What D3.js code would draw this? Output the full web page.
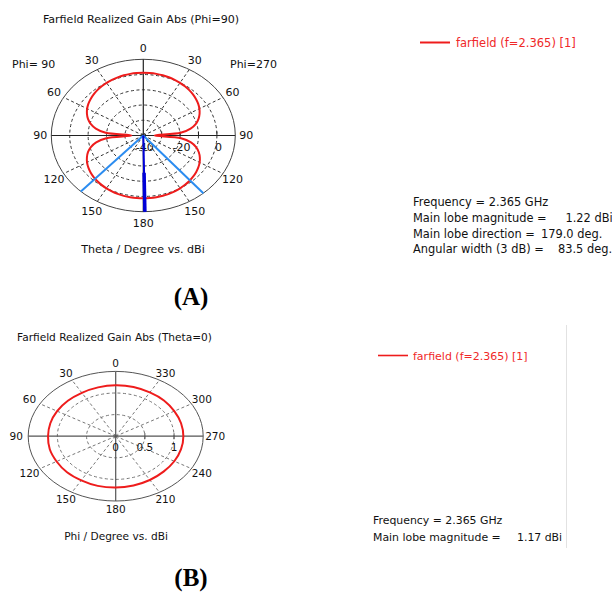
<!DOCTYPE html>
<html><head><meta charset="utf-8">
<script src="https://cdn.jsdelivr.net/npm/d3@7"></script>
<style>
html,body{margin:0;padding:0;background:#fff;}
svg{display:block;}
text{font-family:"DejaVu Sans",Verdana,sans-serif;}
</style></head>
<body>
<svg id="c" width="612" height="592"></svg>
<script>
// ---------- DATA ----------
// Panel A: Phi=90 cut, theta (deg) vs realized gain (dBi)
const thetaDeg = [0,5,10,15,20,25,30,35,40,45,50,55,60,65,70,75,80,85,90,95,100,105,110,115,120,125,130,135,140,145,150,155,160,165,170,175,180,185,190,195,200,205,210,215,220,225,230,235,240,245,250,255,260,265,270,275,280,285,290,295,300,305,310,315,320,325,330,335,340,345,350,355];
const gainA = [1.20,1.16,1.05,0.88,0.62,0.30,-0.10,-0.60,-1.15,-1.85,-2.65,-3.60,-4.75,-6.20,-8.00,-10.4,-13.8,-19.5,-33.5,-19.8,-14.0,-10.5,-8.0,-6.2,-4.7,-3.5,-2.5,-1.7,-1.0,-0.45,0.05,0.45,0.78,1.00,1.14,1.21,1.22,1.20,1.12,0.97,0.74,0.42,0.02,-0.48,-1.05,-1.75,-2.55,-3.50,-4.65,-6.10,-7.90,-10.3,-13.7,-19.4,-33.8,-19.6,-13.9,-10.4,-8.05,-6.25,-4.80,-3.62,-2.65,-1.85,-1.15,-0.60,-0.10,0.32,0.64,0.90,1.07,1.17];
const gridA = [-30,-20,-10,0];
const radialLabelsA = [-40,-20,0];
const angleTicksA = [0,30,60,90,120,150,180,210,240,270,300,330];
const mainLobeDirA = 179.0;
const beamEdgesA = [137.25,220.75];
const infoA = [["Frequency = 2.365 GHz",""],["Main lobe magnitude =","1.22 dBi"],["Main lobe direction =","179.0 deg."],["Angular width (3 dB) =","83.5 deg."]];

// Panel B: Theta=0 cut, phi (deg) vs realized gain (dBi)
const phiDeg = [0,15,30,45,60,75,90,105,120,135,150,165,180,195,210,225,240,255,270,285,300,315,330,345];
const gainB = [1.18,1.17,1.16,1.16,1.16,1.16,1.16,1.17,1.17,1.18,1.18,1.19,1.19,1.18,1.17,1.16,1.16,1.16,1.16,1.16,1.16,1.17,1.17,1.18];
const gridB = [0.5,1];
const radialLabelsB = [0,0.5,1];
const angleTicksB = [0,30,60,90,120,150,180,210,240,270,300,330];
const infoB = [["Frequency = 2.365 GHz",""],["Main lobe magnitude =","1.17 dBi"]];
const legendLabel = "farfield (f=2.365) [1]";

// ---------- DRAW ----------
const svg = d3.select("#c");
const rad = d => d*Math.PI/180;

function polar(g, o){
  const r = d3.scaleLinear().domain(o.domain).range([0,1]);
  const px = (a,v) => o.cx - o.rx*r(v)*Math.sin(rad(a));
  const py = (a,v) => o.cy - o.ry*r(v)*Math.cos(rad(a));
  const top = o.domain[1];
  g.append("ellipse").attr("cx",o.cx).attr("cy",o.cy)
    .attr("rx",o.rx*r(top)).attr("ry",o.ry*r(top))
    .attr("fill","none").attr("stroke",o.outer).attr("stroke-width",1);
  o.grid.forEach(v=>{
    g.append("ellipse").attr("cx",o.cx).attr("cy",o.cy)
      .attr("rx",o.rx*r(v)).attr("ry",o.ry*r(v))
      .attr("fill","none").attr("stroke",o.dash).attr("stroke-width",1)
      .attr("stroke-dasharray",o.dashArr);
  });
  o.angles.forEach(a=>{
    if(a%90===0) return;
    g.append("line").attr("x1",o.cx).attr("y1",o.cy)
      .attr("x2",px(a,top)).attr("y2",py(a,top))
      .attr("stroke",o.dash).attr("stroke-width",1).attr("stroke-dasharray",o.dashArr);
  });
  g.append("line").attr("x1",px(90,top)).attr("y1",o.cy).attr("x2",px(270,top)).attr("y2",o.cy)
    .attr("stroke",o.axis).attr("stroke-width",1.2);
  g.append("line").attr("x1",o.cx).attr("y1",py(0,top)).attr("x2",o.cx).attr("y2",py(180,top))
    .attr("stroke",o.axis).attr("stroke-width",1.2);
  o.grid.forEach(v=>{
    g.append("line").attr("x1",px(270,v)).attr("x2",px(270,v))
      .attr("y1",o.cy-o.tick).attr("y2",o.cy+o.tickDown)
      .attr("stroke",o.axis).attr("stroke-width",1);
  });
  o.angles.forEach(a=>{
    g.append("text")
      .attr("x", o.cx - (o.rx+o.offX)*Math.sin(rad(a)))
      .attr("y", o.cy - (o.ry+o.offY)*Math.cos(rad(a)))
      .attr("dy","0.36em").attr("text-anchor","middle")
      .attr("font-size",o.fs).attr("fill","#111").text(o.labelFn(a));
  });
  o.rlabels.forEach(v=>{
    g.append("text").attr("x",px(270,v)+o.rlabDx).attr("y",o.cy+o.rlabDy)
      .attr("dy","0.36em").attr("text-anchor","middle")
      .attr("font-size",o.fs).attr("fill","#111").text(String(v));
  });
  return {r,px,py};
}

// ----- Panel A -----
const gA = svg.append("g");
const optA = {cx:143.3, cy:135.5, rx:92, ry:76.2, domain:[-40,10], grid:gridA, angles:angleTicksA,
  outer:"#444", dash:"#333", axis:"#222", dashArr:"3,2.5", tick:4, tickDown:0, offX:11, offY:11.5, fs:11,
  labelFn:a=> a<=180 ? a : 360-a, rlabels:radialLabelsA, rlabDx:1.5, rlabDy:11.5};
const PA = polar(gA, optA);
const ptsA = thetaDeg.map((t,i)=>[PA.px(t,gainA[i]), PA.py(t,gainA[i])]);
gA.append("path").attr("d", d3.line().curve(d3.curveCatmullRomClosed.alpha(0.5))(ptsA))
  .attr("fill","none").attr("stroke","#ee1c1c").attr("stroke-width",2);
beamEdgesA.forEach(a=>{
  gA.append("line").attr("x1",optA.cx).attr("y1",optA.cy)
    .attr("x2",PA.px(a,10)).attr("y2",PA.py(a,10))
    .attr("stroke","#2b8cf0").attr("stroke-width",2);
});
const mdir = 360-mainLobeDirA;
gA.append("line").attr("x1",optA.cx).attr("y1",optA.cy)
  .attr("x2",PA.px(mdir,10)).attr("y2",PA.py(mdir,10))
  .attr("stroke","#0000d8").attr("stroke-width",2);
gA.append("line").attr("x1",PA.px(mdir,-15.5)).attr("y1",PA.py(mdir,-15.5))
  .attr("x2",PA.px(mdir,10)).attr("y2",PA.py(mdir,10))
  .attr("stroke","#0000d8").attr("stroke-width",3.5);

gA.append("text").attr("x",141).attr("y",23).attr("text-anchor","middle").attr("font-size",11.1).attr("fill","#111")
  .text("Farfield Realized Gain Abs (Phi=90)");
gA.append("text").attr("x",12).attr("y",68).attr("font-size",11).attr("fill","#111").text("Phi= 90");
gA.append("text").attr("x",230).attr("y",68).attr("font-size",11).attr("fill","#111").text("Phi=270");
gA.append("text").attr("x",143).attr("y",253).attr("text-anchor","middle").attr("font-size",11.1).attr("fill","#111")
  .text("Theta / Degree vs. dBi");
gA.append("line").attr("x1",420).attr("x2",450).attr("y1",42.5).attr("y2",42.5).attr("stroke","#ee1c1c").attr("stroke-width",2);
gA.append("text").attr("x",456).attr("y",46.5).attr("font-size",11.5).attr("fill","#f02828").text(legendLabel);
const infoAx = [null,565.5,541,558];
infoA.forEach((d,i)=>{
  const y = 206 + i*15.8;
  gA.append("text").attr("x",413).attr("y",y).attr("font-size",11.4).attr("fill","#111").text(d[0]);
  if(d[1]) gA.append("text").attr("x",infoAx[i]).attr("y",y).attr("font-size",11.4).attr("fill","#111").text(d[1]);
});

// ----- Panel B -----
const gB = svg.append("g");
const optB = {cx:115.7, cy:436.2, rx:87.5, ry:64.8, domain:[0,1.5], grid:gridB, angles:angleTicksB,
  outer:"#555", dash:"#777", axis:"#555", dashArr:"3,2.5", tick:3, tickDown:3, offX:12, offY:8.5, fs:10.5,
  labelFn:a=>a, rlabels:radialLabelsB, rlabDx:0, rlabDy:11};
const PB = polar(gB, optB);
const ptsB = phiDeg.map((p,i)=>[PB.px(p,gainB[i]), PB.py(p,gainB[i])]);
gB.append("path").attr("d", d3.line().curve(d3.curveCatmullRomClosed.alpha(0.5))(ptsB))
  .attr("fill","none").attr("stroke","#ee1c1c").attr("stroke-width",2);

gB.append("text").attr("x",114.5).attr("y",341).attr("text-anchor","middle").attr("font-size",10.6).attr("fill","#111")
  .text("Farfield Realized Gain Abs (Theta=0)");
gB.append("text").attr("x",116).attr("y",540).attr("text-anchor","middle").attr("font-size",10.6).attr("fill","#111")
  .text("Phi / Degree vs. dBi");
gB.append("line").attr("x1",378).attr("x2",408).attr("y1",355.5).attr("y2",355.5).attr("stroke","#ee1c1c").attr("stroke-width",1.6);
gB.append("text").attr("x",413).attr("y",359.5).attr("font-size",11).attr("fill","#f02828").text(legendLabel);
const infoBx = [null,517];
infoB.forEach((d,i)=>{
  const y = 524 + i*16.5;
  gB.append("text").attr("x",373).attr("y",y).attr("font-size",10.9).attr("fill","#111").text(d[0]);
  if(d[1]) gB.append("text").attr("x",infoBx[i]).attr("y",y).attr("font-size",10.9).attr("fill","#111").text(d[1]);
});
gB.append("line").attr("x1",566.5).attr("x2",566.5).attr("y1",325).attr("y2",548).attr("stroke","#e2e2e2").attr("stroke-width",1);

svg.append("text").attr("x",191).attr("y",305).attr("text-anchor","middle")
  .style("font-family","'Liberation Serif','Times New Roman',serif").attr("font-weight","bold").attr("font-size",25).text("(A)");
svg.append("text").attr("x",191).attr("y",586).attr("text-anchor","middle")
  .style("font-family","'Liberation Serif','Times New Roman',serif").attr("font-weight","bold").attr("font-size",25).text("(B)");
</script>
</body></html>
